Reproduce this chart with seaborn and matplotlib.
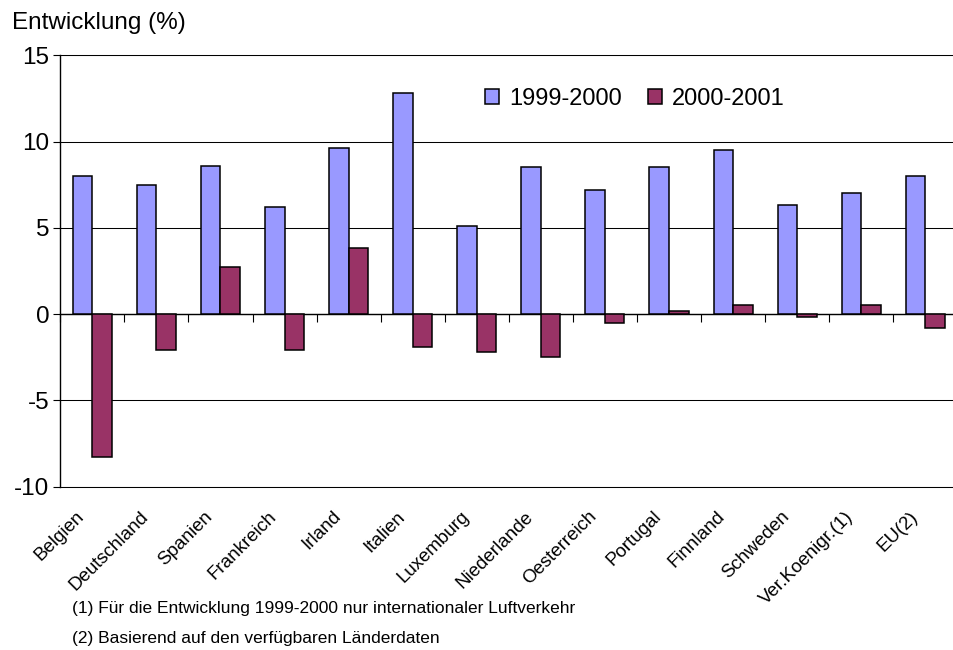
import numpy as np
import pandas as pd
import matplotlib
matplotlib.use("Agg")
import matplotlib.pyplot as plt
import seaborn as sns
from matplotlib.transforms import ScaledTranslation

# ---------------- data ----------------
categories = ["Belgien", "Deutschland", "Spanien", "Frankreich", "Irland", "Italien",
              "Luxemburg", "Niederlande", "Oesterreich", "Portugal", "Finnland",
              "Schweden", "Ver.Koenigr.(1)", "EU(2)"]
v_1999_2000 = [8.0, 7.5, 8.6, 6.2, 9.6, 12.8, 5.1, 8.5, 7.2, 8.5, 9.5, 6.3, 7.0, 8.0]
v_2000_2001 = [-8.3, -2.1, 2.7, -2.1, 3.8, -1.9, -2.2, -2.5, -0.5, 0.2, 0.5, -0.2, 0.5, -0.8]
series = ["1999-2000", "2000-2001"]
colors = ["#9999FF", "#993366"]
yticks = [-10, -5, 0, 5, 10, 15]
ylabel = "Entwicklung (%)"
footnotes = ["(1) Für die Entwicklung 1999-2000 nur internationaler Luftverkehr",
             "(2) Basierend auf den verfügbaren Länderdaten"]

df = pd.DataFrame({
    "Land": categories * 2,
    "Wert": v_1999_2000 + v_2000_2001,
    "Zeitraum": [series[0]] * len(categories) + [series[1]] * len(categories),
})

sns.set_theme(style="white")
plt.rcParams["font.family"] = ["Liberation Sans", "DejaVu Sans"]
plt.rcParams["axes.unicode_minus"] = False
plt.rcParams["text.color"] = "black"
plt.rcParams["xtick.color"] = "black"
plt.rcParams["ytick.color"] = "black"
plt.rcParams["axes.labelcolor"] = "black"

W, H = 954, 650
fig = plt.figure(figsize=(W / 100, H / 100), dpi=100)
ax = fig.add_axes([60.3 / W, 163.5 / H, 897 / W, 431.2 / H])

sns.barplot(data=df, x="Land", y="Wert", hue="Zeitraum", order=categories,
            hue_order=series, palette=colors, width=0.61, edgecolor="black",
            linewidth=1.1, errorbar=None, saturation=1, ax=ax)

ax.set_ylim(yticks[0], yticks[-1])
ax.set_xlim(-0.5, len(categories) - 0.5)
ax.set_yticks(yticks)
ax.set_yticklabels([str(t) for t in yticks])
ax.set_xlabel("")
ax.set_ylabel("")
ax.set_axisbelow(True)
ax.yaxis.grid(True, color="black", linewidth=0.75)
ax.xaxis.grid(False)

for s in ["top", "bottom"]:
    ax.spines[s].set_visible(True)
    ax.spines[s].set_color("black")
    ax.spines[s].set_linewidth(0.75)
ax.spines["right"].set_visible(False)
ax.spines["left"].set_color("black")
ax.spines["left"].set_linewidth(1.0)

ax.tick_params(axis="y", direction="out", length=5, width=0.8, color="black",
               labelcolor="black", labelsize=17.5, pad=3, left=True)
ax.set_xticks(range(len(categories)))
ax.set_xticklabels(categories, rotation=45, ha="right", va="top", fontsize=13.5,
                   color="black")
ax.tick_params(axis="x", length=0, pad=15.5, bottom=True)
for lab in ax.get_xticklabels():
    lab.set_transform(lab.get_transform() + ScaledTranslation(-4.5 / 100, 0, fig.dpi_scale_trans))

# zero line with category-boundary ticks
zero_frac = (0 - yticks[0]) / (yticks[-1] - yticks[0])
sec = ax.secondary_xaxis(zero_frac)
sec.set_xticks(np.arange(-0.5, len(categories), 1.0))
sec.set_xticklabels([])
sec.tick_params(axis="x", direction="out", length=6, width=0.8, color="black")
sec.spines["bottom"].set_color("black")
sec.spines["bottom"].set_linewidth(1.0)

handles, labels = ax.get_legend_handles_labels()
leg = ax.legend(handles, labels, loc="upper left", bbox_to_anchor=(485 / W, 1 - 88 / H),
                bbox_transform=fig.transFigure, ncol=2, frameon=False, fontsize=17,
                handlelength=0.6, handleheight=0.6, handletextpad=0.42,
                columnspacing=1.1, borderpad=0, borderaxespad=0)
for t in leg.get_texts():
    t.set_color("black")

fig.text(12 / W, 1 - 23 / H, ylabel, fontsize=17.5, ha="left", va="center", color="black")
fig.text(72 / W, 1 - 608 / H, footnotes[0], fontsize=12.5, ha="left", va="center",
         color="black")
fig.text(72 / W, 1 - 638 / H, footnotes[1], fontsize=12.5, ha="left", va="center",
         color="black")

fig.savefig("out.png", dpi=100)
